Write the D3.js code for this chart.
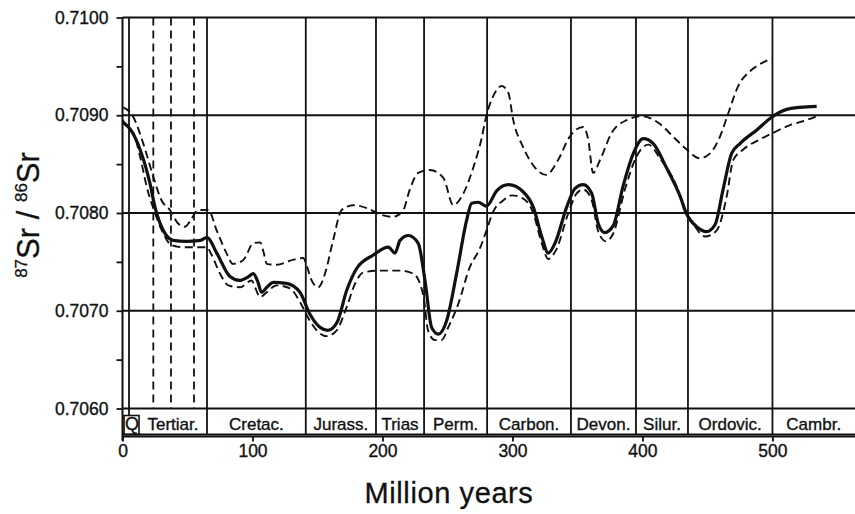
<!DOCTYPE html>
<html><head><meta charset="utf-8">
<script src="https://cdn.jsdelivr.net/npm/d3@7/dist/d3.min.js"></script>
<style>
body{margin:0;background:#fff}
svg{display:block}
text{font-family:"Liberation Sans",Arial,sans-serif;fill:#111;stroke:#111;stroke-width:0.35px}
</style>
</head><body>
<svg id="chart" width="855" height="514"></svg>
<script>
// ---------- data ----------
const yTickValues = [0.7060, 0.7065, 0.7070, 0.7075, 0.7080, 0.7085, 0.7090, 0.7095, 0.7100];
const yGridValues = [0.7060, 0.7070, 0.7080, 0.7090, 0.7100];
const xTickValues = [0, 100, 200, 300, 400, 500];

const periodNames  = ["Q", "Tertiar.", "Cretac.", "Jurass.", "Trias", "Perm.", "Carbon.", "Devon.", "Silur.", "Ordovic.", "Cambr."];
const periodStarts = [1.2, 12.7, 65, 141, 195, 232, 280.5, 345, 395, 435, 500];
const periodEnds   = [12.7, 65, 141, 195, 232, 280.5, 345, 395, 435, 500, 563.5];
const periodLines  = [65, 141, 195, 232, 280.5, 345, 395, 435, 500];
const quaternaryLine = 5;
const tertiarySubLines = [23.7, 37.3, 55];

const meanAge = [0,5.8,13.5,21,25,31.4,39,49,60,65,72.5,82.7,90,97,100.6,104,107,111,116,126,136.5,144,152,158,165,172.5,180,193,204.5,209.6,213.5,220,227.5,232.7,237.8,243,249.4,257,264.8,268.6,273.7,280,288,297,308,316,322.5,327.5,332.7,341.7,348,354.5,361,366,371,377.5,385,393,400.6,408.3,418.6,429,433.6,441.7,449.4,455.8,462,468.6,475,488,499.4,511,521,534];
const meanRatio = [0.70893,0.70886,0.70865,0.70831,0.70806,0.70782,0.70772,0.70771,0.70772,0.70775,0.70759,0.70735,0.70731,0.70735,0.70738,0.70730,0.70719,0.70724,0.70729,0.70728,0.70719,0.70697,0.70683,0.70680,0.70688,0.70721,0.70743,0.70757,0.70765,0.70759,0.70772,0.70777,0.70769,0.70731,0.70683,0.70676,0.70690,0.70738,0.70793,0.70810,0.70811,0.70807,0.70823,0.70829,0.70822,0.70806,0.70776,0.70759,0.70769,0.70806,0.70825,0.70829,0.70820,0.70789,0.70780,0.70787,0.70827,0.70861,0.70876,0.70871,0.70846,0.70817,0.70800,0.70786,0.70781,0.70788,0.70824,0.70861,0.70871,0.70885,0.70898,0.70906,0.70908,0.70909];

const upperAge = [0.6,8,16,23.7,30,36.5,43,48,53,58,66,72.5,80,85,93,100.6,106,108.5,111,118.6,131,139,142,145.5,150.6,155.8,162,168.6,177.5,188,199.4,208.3,216,221,227.5,236.5,246.8,254.5,261,270,276,280,285,291.7,296.8,300.6,308,317,326,335,344,354.5,358.3,362,367.3,376.3,387.8,399.4,413.5,423.7,434,444,452,459.6,466,473.7,482.7,490,499.4];
const upperRatio = [0.70908,0.70899,0.70871,0.70837,0.70813,0.70803,0.70789,0.70786,0.70794,0.70803,0.70803,0.70782,0.70759,0.70748,0.70752,0.70769,0.70770,0.70760,0.70748,0.70747,0.70752,0.70754,0.70745,0.70731,0.70724,0.70738,0.70772,0.70803,0.70808,0.70805,0.70798,0.70796,0.70803,0.70824,0.70841,0.70844,0.70836,0.70808,0.70817,0.70847,0.70875,0.70900,0.70919,0.70930,0.70923,0.70895,0.70868,0.70847,0.70839,0.70854,0.70878,0.70888,0.70875,0.70841,0.70854,0.70882,0.70895,0.70899,0.70891,0.70878,0.70865,0.70856,0.70861,0.70878,0.70902,0.70930,0.70945,0.70952,0.70958];

const lowerAge = [0,5.8,8.3,13.5,18.6,25,31.4,37.8,46.8,57,64.8,68.6,75,81.4,90.4,99.4,102,105.8,111,118.6,128.8,136.5,144,149.4,157,164.8,172.5,179,185,195.5,213.5,223.7,228.8,232,235,240.4,245.5,250.6,258.3,267.3,275,280,285,293,299.4,308,316,322.5,327.5,333.5,343,349.4,354.5,361,366,372,377.5,386.5,395.5,404.5,413.5,426.3,432.7,439,448,457,464.8,469.8,477.5,490,500.6,513.5,526,534];
const lowerRatio = [0.70895,0.70885,0.70882,0.70858,0.70827,0.70800,0.70779,0.70767,0.70765,0.70765,0.70765,0.70757,0.70738,0.70726,0.70724,0.70731,0.70724,0.70714,0.70719,0.70726,0.70723,0.70709,0.70690,0.70680,0.70674,0.70680,0.70704,0.70728,0.70739,0.70741,0.70741,0.70738,0.70728,0.70711,0.70680,0.70670,0.70670,0.70683,0.70707,0.70745,0.70764,0.70782,0.70801,0.70813,0.70818,0.70815,0.70800,0.70769,0.70753,0.70762,0.70800,0.70820,0.70824,0.70813,0.70781,0.70771,0.70779,0.70824,0.70858,0.70870,0.70856,0.70827,0.70803,0.70789,0.70776,0.70782,0.70817,0.70854,0.70865,0.70875,0.70882,0.70890,0.70895,0.70899];

// ---------- chart ----------
const svg = d3.select("#chart");
const x = d3.scaleLinear().domain([0, 563.5]).range([122.5, 855]);
const y = d3.scaleLinear().domain([0.7060, 0.7100]).range([408.5, 17.5]);
const yTop = y(0.7100), yBase = y(0.7060);
const bandBottom = 434.5, axisY = 436.5;
const ink = "#111";

// horizontal grid
svg.append("g").selectAll("line").data(yGridValues).join("line")
  .attr("x1", x(0)).attr("x2", 855)
  .attr("y1", d => y(d)).attr("y2", d => y(d))
  .attr("stroke", ink).attr("stroke-width", 2);

// period boundaries (through band row)
svg.append("g").selectAll("line").data(periodLines).join("line")
  .attr("x1", d => x(d)).attr("x2", d => x(d))
  .attr("y1", yTop).attr("y2", bandBottom)
  .attr("stroke", ink).attr("stroke-width", 1.8);

// Tertiary subdivisions (dashed)
svg.append("g").selectAll("line").data(tertiarySubLines).join("line")
  .attr("x1", d => x(d)).attr("x2", d => x(d))
  .attr("y1", yTop).attr("y2", yBase)
  .attr("stroke", ink).attr("stroke-width", 1.8).attr("stroke-dasharray", "8,5");

// Quaternary line and box
const qx = x(quaternaryLine);
svg.append("line").attr("x1", qx).attr("x2", qx).attr("y1", yTop).attr("y2", 415.5)
  .attr("stroke", ink).attr("stroke-width", 1.8);
svg.append("rect").attr("x", x(periodStarts[0])).attr("y", 415.5)
  .attr("width", x(periodEnds[0]) - x(periodStarts[0])).attr("height", bandBottom - 415.5)
  .attr("fill", "none").attr("stroke", ink).attr("stroke-width", 1.6);

// band bottom line
svg.append("line").attr("x1", x(0)).attr("x2", 855).attr("y1", bandBottom).attr("y2", bandBottom)
  .attr("stroke", ink).attr("stroke-width", 2);

// band labels
svg.append("g").selectAll("text").data(periodNames).join("text")
  .attr("x", (d, i) => (x(periodStarts[i]) + x(periodEnds[i])) / 2 + (i === 0 ? 0.5 : 0))
  .attr("y", 430)
  .attr("text-anchor", "middle")
  .attr("font-size", d => d === "Q" ? 18 : 17)
  .text(d => d);

// y axis
const yAxis = d3.axisLeft(y).tickValues(yTickValues)
  .tickSize(6).tickPadding(8)
  .tickFormat(d => (Math.round(d * 10000) % 10 === 0) ? d.toFixed(4) : "");
const gy = svg.append("g").attr("transform", `translate(${x(0)},0)`).call(yAxis);
gy.select(".domain").remove();
gy.selectAll(".tick line").attr("stroke", ink).attr("stroke-width", 1.8);
gy.selectAll(".tick text").attr("font-size", 17.5).attr("font-family", "Liberation Sans, Arial, sans-serif").attr("fill", ink);

// left frame
svg.append("line").attr("x1", x(0)).attr("x2", x(0)).attr("y1", yTop).attr("y2", axisY + 4)
  .attr("stroke", ink).attr("stroke-width", 2);

// x axis
const xAxis = d3.axisBottom(x).tickValues(xTickValues).tickSize(5).tickPadding(3).tickFormat(d3.format("d"));
const gx = svg.append("g").attr("transform", `translate(0,${axisY})`).call(xAxis);
gx.select(".domain").attr("d", `M${x(0)},0H855`).attr("stroke", ink).attr("stroke-width", 2);
gx.selectAll(".tick line").attr("stroke", ink).attr("stroke-width", 1.8);
gx.selectAll(".tick text").attr("font-size", 17.5).attr("font-family", "Liberation Sans, Arial, sans-serif").attr("fill", ink);

// curves
const line = d3.line().x(d => x(d[0])).y(d => y(d[1])).curve(d3.curveMonotoneX);
const upper = d3.zip(upperAge, upperRatio);
const lower = d3.zip(lowerAge, lowerRatio);
const mean = d3.zip(meanAge, meanRatio);
svg.append("path").datum(upper).attr("d", line).attr("fill", "none")
  .attr("stroke", ink).attr("stroke-width", 1.9).attr("stroke-dasharray", "8,4.5");
svg.append("path").datum(lower).attr("d", line).attr("fill", "none")
  .attr("stroke", ink).attr("stroke-width", 1.9).attr("stroke-dasharray", "8,4.5");
svg.append("path").datum(mean).attr("d", line).attr("fill", "none")
  .attr("stroke", ink).attr("stroke-width", 3.2).attr("stroke-linejoin", "round");

// axis titles
svg.append("text").attr("x", 449).attr("y", 503).attr("text-anchor", "middle")
  .attr("font-size", 29).attr("letter-spacing", 0.6).style("stroke-width", "0.3px").text("Million years");

const yl = svg.append("text").attr("transform", "translate(39,215) rotate(-90)")
  .attr("text-anchor", "middle").attr("font-size", 31).style("stroke-width", "0.3px");
yl.append("tspan").attr("font-size", 17).attr("dy", -12).text("87");
yl.append("tspan").attr("dy", 12).text("Sr / ");
yl.append("tspan").attr("font-size", 17).attr("dy", -12).text("86");
yl.append("tspan").attr("dy", 12).text("Sr");
</script>
</body></html>
